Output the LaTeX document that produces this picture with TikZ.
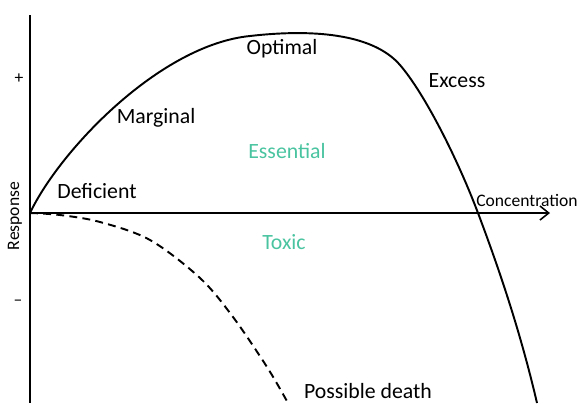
\documentclass[tikz,border=0pt]{standalone}
\usepackage{fontspec}
\setmainfont{Carlito}
\usepackage{xcolor}
\usetikzlibrary{arrows.meta}
\definecolor{teal1}{RGB}{74,196,160}

\begin{document}
\begin{tikzpicture}[x=0.02cm, y=-0.02cm,
    big/.style={font=\fontsize{12.4}{14}\selectfont, inner sep=0pt},
    small/.style={font=\fontsize{10}{12}\selectfont, inner sep=0pt},
    zone/.style={big, text=teal1}]

    % Fix the picture size
    \useasboundingbox (0,0) rectangle (579,403);
    \clip (0,0) rectangle (579,403);

    % Axis end points
    \coordinate (O) at (30,213);
    \coordinate (top) at (30,15);
    \coordinate (bot) at (30,403);
    \coordinate (xend) at (550,213);

    % Draw the axes
    \draw[line width=1.1pt] (top) -- (bot);
    \draw[line width=0.9pt, -{Straight Barb[length=5pt, width=8pt]}] (O) -- (xend);

    % Response curve (essential element)
    \draw[line width=1.1pt] (O) .. controls (60,150) and (160,45) .. (250,36)
        .. controls (320,28) and (375,36) .. (400,65)
        .. controls (425,94) and (458,160) .. (478,213)
        .. controls (498,266) and (520,330) .. (537,403);

    % Response curve (toxic element)
    \draw[line width=1.1pt, dash pattern=on 4.5pt off 3pt] plot[smooth, tension=0.55] coordinates {(30,213) (60,215) (100,222) (150,240) (200,278) (233,317) (267,367) (288,403)};

    % Axis labels
    \node[small, anchor=base west] (conc) at (476,206) {Concentration};
    \node[small, rotate=90] (resp) at (15,216) {Response};
    \node[small] (plus) at (19,79) {+};
    \node[small] (minus) at (18,303) {–};

    % Region labels
    \node[big] (deficient) at (97,191) {Deficient};
    \node[big] (marginal) at (156,118) {Marginal};
    \node[big] (optimal) at (282,49) {Optimal};
    \node[big] (excess) at (457,81) {Excess};
    \node[zone] (essential) at (287,151) {Essential};
    \node[zone] (toxic) at (284,242) {Toxic};
    \node[big] (death) at (368,391) {Possible death};

\end{tikzpicture}
\end{document}
